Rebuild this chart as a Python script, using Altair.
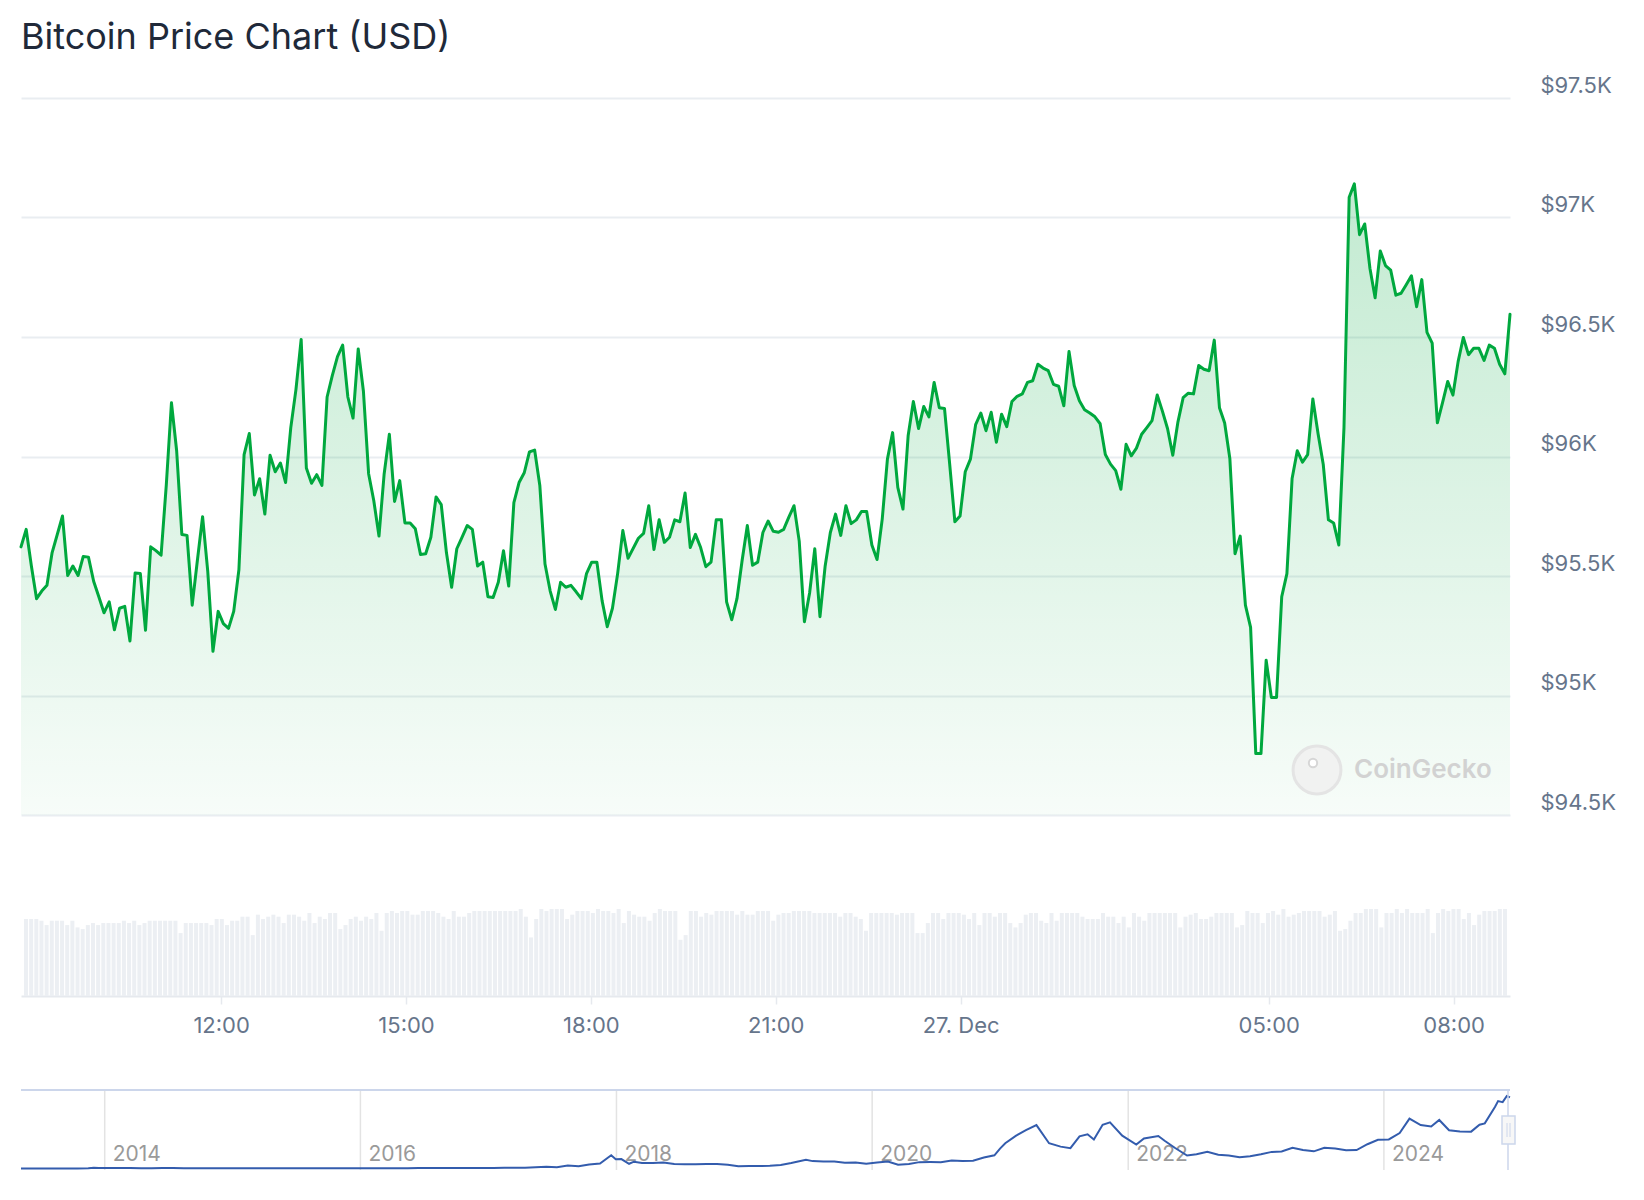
import altair as alt
import pandas as pd

# ---------------- data ----------------
START_UTC = "2024-12-26T08:50:00Z"
END_UTC = "2024-12-27T08:50:00Z"

# 5-minute BTC price (USD); None = vertex not readable
price_usd = [
    95622, 95695, 95542, 95405, 95437, 95461, 95598, None, 95751, 95502, 95542, 95502,
    95582, 95579, 95478, 95413, 95346, 95392, 95275, 95365, 95373, 95228, 95513, 95510,
    95273, 95622, 95606, 95587, 95879, 96225, 96024, 95674, 95670, 95378, 95566, 95748,
    95518, 95185, 95352, 95301, 95281, 95352, 95526, 96008, 96096, 95839, 95907, 95759,
    96005, 95936, 95973, 95891, 96121, 96281, 96490, 95952, 95888, 95924, 95879, 96249,
    96338, 96418, 96466, 96249, 96161, 96450, 96273, 95928, 95815, 95667, 95928, 96093,
    95812, 95899, 95722, 95722, 95698, 95590, 95593, 95662, 95831, 95799, 95598, 95453,
    95614, 95662, 95711, 95695, 95542, 95558, 95413, 95410, 95474, 95606, 95458, 95807,
    95891, 95932, 96019, 96027, 95879, 95550, 95437, 95360, 95474, 95453, 95461, 95434,
    95405, 95510, 95558, 95558, 95397, 95288, 95365, 95510, 95690, 95574, None, 95658,
    95678, 95794, 95611, 95735, 95641, 95662, 95735, 95727, 95847, 95619, 95674, 95619,
    95539, 95558, 95735, 95735, 95392, 95317, 95405, 95566, 95711, 95545, 95558, 95682,
    95730, 95687, 95683, 95695, 95746, 95794, 95646, 95309, 95429, 95614, 95330, 95542,
    95682, 95759, 95670, 95794, 95719, 95735, 95770, 95770, 95630, 95569, 95738, 95989,
    96100, 95871, 95780, 96088, 96230, 96117, 96209, 96166, 96310, 96204, 96201, 95968,
    95727, 95751, 95936, 95989, 96133, 96182, 96108, 96185, 96060, 96177, 96125, 96230,
    96252, 96262, 96310, 96317, 96386, 96370, 96359, 96302, 96294, 96212, 96439, 96297,
    96233, 96196, 96182, 96166, 96137, 96008, 95968, 95941, 95863, 96051, 96003, 96035,
    96093, 96121, 96150, 96257, 96190, 96116, 96005, 96145, 96246, 96265, 96262, 96381,
    96365, 96359, 96487, 96204, 96140, 95992, 95593, 95667, 95378, 95285, 94757, 94757,
    95148, 94992, 94992, 95413, 95510, 95908, 96024, 95976, 96008, 96241, 96096, 95968,
    95735, 95722, 95630, 96121, 97085, 97141, 96928, 96973, 96788, 96664, 96860, 96799,
    96780, 96675, 96683, 96719, 96756, 96627, 96740, 96519, 96474, 96141, 96225, 96314,
    96257, 96397, 96498, 96426, 96453, 96453, 96402, 96466, 96453, 96386, 96346, 96595,
]

# 5-minute traded volume (relative units, M USD)
volume_musd = [
    230, 230, 230, 225, 212, 225, 225, 225, 212, 225, 205, 200,
    212, 218, 212, 218, 218, 218, 218, 225, 218, 225, 212, 218,
    225, 225, 225, 225, 225, 225, 188, 218, 218, 218, 218, 218,
    212, 230, 230, 212, 225, 225, 237, 237, 182, 243, 230, 237,
    243, 237, 218, 243, 243, 237, 225, 248, 218, 237, 230, 248,
    248, 200, 212, 230, 237, 225, 237, 230, 248, 195, 248, 254,
    248, 254, 254, 243, 243, 254, 254, 254, 248, 237, 230, 254,
    237, 237, 248, 254, 254, 254, 254, 254, 254, 254, 254, 254,
    260, 237, 175, 230, 260, 254, 260, 260, 260, 230, 243, 254,
    254, 254, 248, 260, 254, 254, 248, 260, 218, 254, 243, 237,
    237, 225, 248, 260, 254, 254, 254, 168, 182, 254, 254, 237,
    248, 243, 254, 254, 254, 254, 243, 254, 243, 243, 254, 254,
    254, 225, 243, 248, 248, 254, 254, 254, 254, 248, 248, 248,
    248, 248, 237, 248, 248, 237, 230, 195, 248, 248, 248, 248,
    248, 243, 248, 248, 248, 188, 188, 218, 248, 248, 230, 248,
    248, 248, 243, 230, 248, 212, 248, 248, 237, 248, 248, 218,
    205, 218, 243, 248, 248, 225, 218, 248, 225, 248, 248, 248,
    248, 237, 230, 230, 230, 248, 237, 237, 218, 237, 205, 248,
    237, 225, 248, 248, 248, 248, 248, 248, 205, 237, 243, 248,
    230, 230, 237, 248, 248, 248, 248, 205, 212, 254, 248, 248,
    218, 248, 254, 243, 260, 237, 243, 248, 254, 254, 254, 254,
    237, 243, 254, 195, 200, 225, 248, 248, 260, 260, 260, 205,
    248, 248, 260, 248, 260, 248, 248, 248, 260, 188, 248, 260,
    254, 260, 260, 230, 248, 212, 243, 254, 254, 254, 260, 260,
]
VOLUME_MAX = 260

price_ticks = [94500, 95000, 95500, 96000, 96500, 97000, 97500]
time_ticks = [
    "2024-12-26T12:00:00Z", "2024-12-26T15:00:00Z", "2024-12-26T18:00:00Z",
    "2024-12-26T21:00:00Z", "2024-12-27T00:00:00Z", "2024-12-27T05:00:00Z",
    "2024-12-27T08:00:00Z",
]

# navigator: long-term history
nav_dates = [
    "2013-05-07", "2013-06-15", "2013-07-15", "2013-08-15", "2013-09-15", "2013-10-15", "2013-11-15", "2013-12-01", "2013-12-15",
    "2014-01-15", "2014-02-15", "2014-03-15", "2014-04-15", "2014-05-15", "2014-06-15", "2014-07-15", "2014-08-15", "2014-09-15", "2014-10-15", "2014-11-15", "2014-12-15",
    "2015-01-15", "2015-02-15", "2015-03-15", "2015-04-15", "2015-05-15", "2015-06-15", "2015-07-15", "2015-08-15", "2015-09-15", "2015-10-15", "2015-11-15", "2015-12-15",
    "2016-01-15", "2016-02-15", "2016-03-15", "2016-04-15", "2016-05-15", "2016-06-15", "2016-07-15", "2016-08-15", "2016-09-15", "2016-10-15", "2016-11-15", "2016-12-15",
    "2017-01-15", "2017-02-15", "2017-03-15", "2017-04-15", "2017-05-15", "2017-06-15", "2017-07-15", "2017-08-15", "2017-09-15", "2017-10-15", "2017-11-15", "2017-12-17", "2017-12-30",
    "2018-01-15", "2018-02-06", "2018-02-20", "2018-03-15", "2018-04-15", "2018-05-15", "2018-06-15", "2018-07-15", "2018-08-15", "2018-09-15", "2018-10-15", "2018-11-15", "2018-12-15",
    "2019-01-15", "2019-02-15", "2019-03-15", "2019-04-15", "2019-05-15", "2019-06-26", "2019-07-15", "2019-08-15", "2019-09-15", "2019-10-15", "2019-11-15", "2019-12-15",
    "2020-01-15", "2020-02-15", "2020-03-15", "2020-04-15", "2020-05-15", "2020-06-15", "2020-07-15", "2020-08-15", "2020-09-15", "2020-10-15", "2020-11-15", "2020-12-15", "2020-12-31",
    "2021-01-15", "2021-02-15", "2021-03-15", "2021-04-14", "2021-05-20", "2021-06-22", "2021-07-20", "2021-08-15", "2021-09-07", "2021-09-25", "2021-10-20", "2021-11-10", "2021-12-15",
    "2022-01-24", "2022-02-15", "2022-03-28", "2022-04-15", "2022-05-15", "2022-06-18", "2022-07-15", "2022-08-15", "2022-09-15", "2022-10-15", "2022-11-15", "2022-12-15",
    "2023-01-15", "2023-02-15", "2023-03-15", "2023-04-15", "2023-05-15", "2023-06-15", "2023-07-15", "2023-08-15", "2023-09-15", "2023-10-15", "2023-11-15", "2023-12-15",
    "2024-01-15", "2024-02-15", "2024-03-14", "2024-04-15", "2024-05-15", "2024-06-07", "2024-07-05", "2024-08-05", "2024-09-06", "2024-09-30", "2024-10-15", "2024-11-13", "2024-11-22", "2024-12-05", "2024-12-17", "2024-12-26",
]
nav_usd = [
    115, 100, 95, 110, 130, 160, 420, 1000, 750,
    850, 620, 630, 500, 450, 600, 620, 500, 470, 390, 400, 350,
    210, 235, 285, 220, 235, 235, 285, 260, 230, 255, 330, 450,
    430, 400, 415, 430, 455, 690, 660, 570, 610, 640, 710, 780,
    820, 1010, 1250, 1180, 1780, 2500, 1950, 4200, 3400, 5700, 7300, 19400, 13500,
    13800, 6900, 10000, 8200, 8000, 8700, 6600, 6300, 6300, 6500, 6600, 5600, 3250,
    3600, 3600, 3900, 5100, 7900, 12900, 10800, 10300, 10300, 8300, 8600, 7100,
    8800, 10300, 5400, 6700, 9300, 9400, 9200, 11800, 10800, 11500, 16000, 19300, 29000,
    37000, 48000, 56000, 63500, 37000, 32000, 29800, 47000, 50000, 42500, 64000, 67500, 48000,
    35000, 44000, 47500, 40500, 30000, 19000, 20800, 24300, 20000, 19100, 16600, 17800,
    20800, 24300, 24800, 30400, 27200, 25100, 30300, 29200, 26600, 27000, 35500, 42000,
    42500, 51800, 73000, 63500, 61500, 71000, 56000, 54000, 53900, 64000, 66000, 90000, 98500, 97000, 106000, 104000,
]
nav_years = ["2014", "2016", "2018", "2020", "2022", "2024"]
NAV_START, NAV_END = "2013-05-07", "2024-12-26"
NAV_Y_DOMAIN = [-2200, 114800]

TITLE = "Bitcoin Price Chart (USD)"
WATERMARK = "CoinGecko"

# ---------------- helpers ----------------
def ms(s):
    return int(pd.Timestamp(s).value // 10**6)

t0, t1 = ms(START_UTC), ms(END_UTC)
n = len(price_usd)
step = (t1 - t0) / (n - 1)

df_price = pd.DataFrame({"t": [t0 + i * step for i in range(n)], "price": price_usd}).dropna()
df_vol = pd.DataFrame({"t": [t0 + i * step for i in range(len(volume_musd))], "vol": volume_musd})
df_nav = pd.DataFrame({"t": [ms(d) for d in nav_dates], "usd": nav_usd})
df_years = pd.DataFrame({"t": [ms(y + "-01-01") for y in nav_years], "label": nav_years})

W = 1489
H_PRICE = 717
H_VOL = 87
H_NAV = 80
FONT = "Inter"
LABEL_COLOR = "#66758b"
GRID = "#e9edf1"
GREEN = "#00a83e"

x_scale = alt.Scale(type="utc", domain=[t0, t1])
y_scale = alt.Scale(domain=[price_ticks[0], price_ticks[-1]], nice=False, zero=False)

y_axis = alt.Axis(
    orient="right", values=price_ticks,
    labelExpr="'$' + format(datum.value / 1000, '~g') + 'K'",
    grid=True, gridColor=GRID, gridWidth=2, domain=False, ticks=False,
    labelFont=FONT, labelFontSize=22, labelColor=LABEL_COLOR,
    labelPadding=30, labelAlign="left", labelBaseline="alphabetic", labelOffset=-6,
    title=None,
)

base = alt.Chart(df_price)
area = base.mark_area(
    color=alt.Gradient(
        gradient="linear",
        stops=[alt.GradientStop(color="rgba(0,168,62,0.24)", offset=0),
               alt.GradientStop(color="rgba(0,168,62,0.03)", offset=1)],
        x1=1, x2=1, y1=0, y2=1,
    )
).encode(
    x=alt.X("t:T", scale=x_scale, axis=None),
    y=alt.Y("price:Q", scale=y_scale, axis=y_axis),
    y2=alt.datum(price_ticks[0]),
)
line = base.mark_line(color=GREEN, strokeWidth=3, strokeJoin="round", strokeCap="round").encode(
    x=alt.X("t:T", scale=x_scale, axis=None),
    y=alt.Y("price:Q", scale=y_scale),
)

one = pd.DataFrame({"s": [TITLE], "w": [WATERMARK]})
title = alt.Chart(one).mark_text(
    align="left", baseline="alphabetic", font=FONT, fontSize=36, color="#202939"
).encode(x=alt.value(0), y=alt.value(-49), text="s:N")

wm_circle = alt.Chart(one).mark_point(
    shape="circle", size=2290, fill="#f1f2f1", fillOpacity=1, stroke="#e4e4e4", strokeWidth=3, opacity=1
).encode(x=alt.value(1296), y=alt.value(672))
wm_eye = alt.Chart(one).mark_point(
    shape="circle", size=70, fill="#ffffff", fillOpacity=1, stroke="#d6d6d6", strokeWidth=2, opacity=1
).encode(x=alt.value(1292), y=alt.value(665))
wm_text = alt.Chart(one).mark_text(
    align="left", baseline="middle", font=FONT, fontSize=26, fontWeight=600, color="#d2d2d2"
).encode(x=alt.value(1333), y=alt.value(672), text="w:N")

price_panel = alt.layer(area, line, wm_circle, wm_eye, wm_text, title).properties(width=W, height=H_PRICE)

# volume panel with the time axis
vol_panel = alt.Chart(df_vol).mark_bar(color="#eceff3", size=4).encode(
    x=alt.X("t:T", scale=x_scale, axis=alt.Axis(
        values=[ms(s) for s in time_ticks],
        labelExpr="utcFormat(datum.value, '%H:%M') == '00:00' ? utcFormat(datum.value, '%d. %b') : utcFormat(datum.value, '%H:%M')",
        domainColor="#e6e9ee", domainWidth=2, tickColor="#e6e9ee", tickSize=8, tickWidth=1.5,
        labelFont=FONT, labelFontSize=22, labelColor=LABEL_COLOR, labelPadding=11,
        grid=False, title=None, labelFlush=False, labelOverlap=False,
    )),
    y=alt.Y("vol:Q", scale=alt.Scale(domain=[0, VOLUME_MAX], nice=False), axis=None),
).properties(width=W, height=H_VOL)

# navigator
nav_x = alt.Scale(type="utc", domain=[ms(NAV_START), ms(NAV_END)])
nav_grid = alt.Chart(df_years).mark_rule(color="#e3e3e3", strokeWidth=1.5).encode(
    x=alt.X("t:T", scale=nav_x, axis=None), y=alt.value(0), y2=alt.value(H_NAV)
)
nav_labels = alt.Chart(df_years).mark_text(
    align="left", baseline="alphabetic", dx=8, font=FONT, fontSize=21, color="#9a9a9a"
).encode(x=alt.X("t:T", scale=nav_x, axis=None), y=alt.value(71), text="label:N")
nav_line = alt.Chart(df_nav).mark_line(color="#335cad", strokeWidth=2).encode(
    x=alt.X("t:T", scale=nav_x, axis=None),
    y=alt.Y("usd:Q", scale=alt.Scale(domain=NAV_Y_DOMAIN, nice=False, zero=False), axis=None),
)
frame = alt.Chart(one).mark_rule(color="#ccd6eb", strokeWidth=2).encode(
    x=alt.value(0), x2=alt.value(W), y=alt.value(0)
)
right_edge = alt.Chart(one).mark_rule(color="#ccd6eb", strokeWidth=1.5).encode(
    x=alt.value(W - 2), y=alt.value(0), y2=alt.value(H_NAV)
)
handle = alt.Chart(one).mark_rect(fill="#f7f7f7", stroke="#ccd6eb", strokeWidth=1.5).encode(
    x=alt.value(W - 8), x2=alt.value(W + 5), y=alt.value(26), y2=alt.value(54)
)
handle_l1 = alt.Chart(one).mark_rule(color="#ccd6eb", strokeWidth=1).encode(
    x=alt.value(W - 3), y=alt.value(33), y2=alt.value(47)
)
handle_l2 = alt.Chart(one).mark_rule(color="#ccd6eb", strokeWidth=1).encode(
    x=alt.value(W), y=alt.value(33), y2=alt.value(47)
)
nav_panel = alt.layer(nav_grid, nav_labels, nav_line, frame, right_edge, handle, handle_l1, handle_l2).properties(
    width=W, height=H_NAV
)

chart = alt.vconcat(price_panel, vol_panel, nav_panel, spacing=94, bounds="flush").properties(
    padding={"left": 9, "top": 12, "right": 5, "bottom": 5}
).configure_view(strokeWidth=0).resolve_scale(x="independent", y="independent")

chart.save("out.html", embed_options={"renderer": "svg", "actions": False})
